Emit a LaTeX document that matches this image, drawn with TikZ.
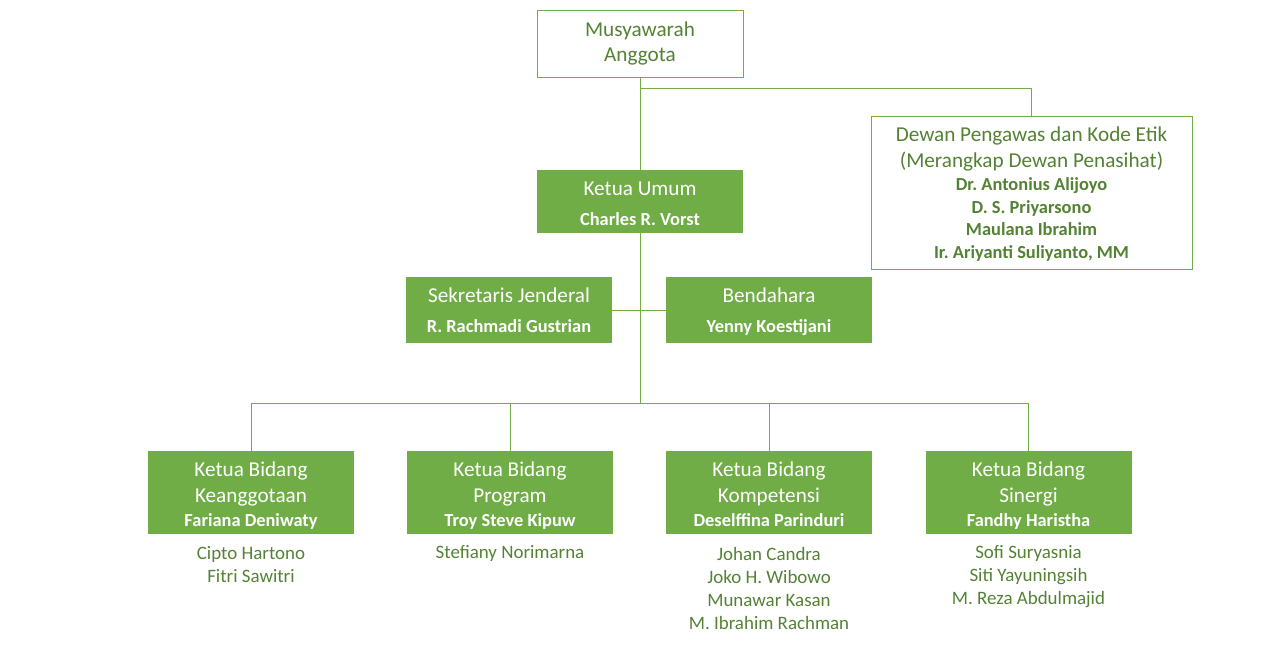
\documentclass[tikz,border=0pt]{standalone}
\usepackage{fontspec}
\setmainfont{Carlito}
\frenchspacing
\definecolor{lgreen}{HTML}{70AD47}
\definecolor{dgreen}{HTML}{548235}
\newcommand{\rg}{\fontsize{15.9}{19.5}\selectfont}
\newcommand{\bd}{\fontsize{13.8}{17}\selectfont\bfseries}
\newcommand{\mb}{\fontsize{14.2}{17.25}\selectfont}
\newcommand{\fl}[2]{\rule{0pt}{#1}\smash{#2}}
\newcommand{\lsl}[2]{\smash{#2}\rule[-#1]{0pt}{#1}}
\begin{document}
\begin{tikzpicture}[x=0.75pt,y=-0.75pt,
  outbox/.style={draw=lgreen,line width=0.75pt,fill=white,text=dgreen,align=center,inner sep=0pt,font=\rg},
  fillbox/.style={fill=lgreen,text=white,align=center,inner sep=0pt,font=\rg,minimum width=154.5pt},
  members/.style={text=dgreen,align=center,inner sep=0pt,font=\mb},
  conn/.style={draw=lgreen,line width=0.75pt}]
\useasboundingbox (0,0) rectangle (1280,665);
% boxes
\node[outbox,minimum width=154.5pt,minimum height=50.25pt] (musy) at (640,43.5) {\fl{11.6pt}{Musyawarah}\\[-0.5pt]\lsl{3pt}{Anggota}};
\node[outbox,minimum width=240.75pt,minimum height=114.75pt] (dewan) at (1031.5,192.5)
  {\fl{12.7pt}{Dewan Pengawas dan Kode Etik}\\(Merangkap Dewan Penasihat)\\[-2pt]
   {\bd Dr. Antonius Alijoyo}\\[-2.5pt]{\bd D. S. Priyarsono}\\[-2.5pt]{\bd Maulana Ibrahim}\\[-2.5pt]{\bd\lsl{1.9pt}{Ir. Ariyanti Suliyanto, MM}}};
\node[fillbox,minimum height=47.25pt] (ketum) at (640,201.5) {\fl{13.9pt}{Ketua Umum}\\[3pt]{\bd\lsl{0.7pt}{Charles R. Vorst}}};
\node[fillbox,minimum height=49.5pt] (sek) at (509,310) {\fl{13.2pt}{Sekretaris Jenderal}\\[3pt]{\bd\lsl{1.4pt}{R. Rachmadi Gustrian}}};
\node[fillbox,minimum height=49.5pt] (bend) at (769,310) {\fl{13.2pt}{Bendahara}\\[3pt]{\bd\lsl{1.4pt}{Yenny Koestijani}}};
\node[fillbox,minimum height=62.25pt] (b1) at (251,492.5) {\fl{13.9pt}{Ketua Bidang}\\Keanggotaan\\[-1.5pt]{\bd\lsl{0.7pt}{Fariana Deniwaty}}};
\node[fillbox,minimum height=62.25pt] (b2) at (510,492.5) {\fl{13.9pt}{Ketua Bidang}\\Program\\[-1.5pt]{\bd\lsl{0.7pt}{Troy Steve Kipuw}}};
\node[fillbox,minimum height=62.25pt] (b3) at (769,492.5) {\fl{13.9pt}{Ketua Bidang}\\Kompetensi\\[-1.5pt]{\bd\lsl{0.7pt}{Deselffina Parinduri}}};
\node[fillbox,minimum height=62.25pt] (b4) at (1028.5,492.5) {\fl{13.9pt}{Ketua Bidang}\\Sinergi\\[-1.5pt]{\bd\lsl{0.7pt}{Fandhy Haristha}}};
% members
\node[members] (m1) at (251,563.5) {\fl{11.9pt}{Cipto Hartono}\\\lsl{1.4pt}{Fitri Sawitri}};
\node[members] (m2) at (510,552) {\rule[-1.9pt]{0pt}{13.3pt}\smash{Stefiany Norimarna}};
\node[members] (m3) at (769,587.5) {\fl{11.9pt}{Johan Candra}\\Joko H. Wibowo\\Munawar Kasan\\\lsl{1.4pt}{M. Ibrahim Rachman}};
\node[members] (m4) at (1028.5,574) {\fl{11.9pt}{Sofi Suryasnia}\\Siti Yayuningsih\\\lsl{1.4pt}{M. Reza Abdulmajid}};
% junctions
\coordinate (j1) at (640,88);
\coordinate (j3) at (640,403);
% connectors
\draw[conn] (musy.south) -- (ketum.north);
\draw[conn] (j1) -| (dewan.north);
\draw[conn] (ketum.south) -- (j3);
\draw[conn] (sek.east) -- (bend.west);
\draw[conn] (b1.north) -- (b1.north |- j3) -- (b4.north |- j3) -- (b4.north);
\draw[conn] (b2.north) -- (b2.north |- j3);
\draw[conn] (b3.north) -- (b3.north |- j3);
\end{tikzpicture}
\end{document}
